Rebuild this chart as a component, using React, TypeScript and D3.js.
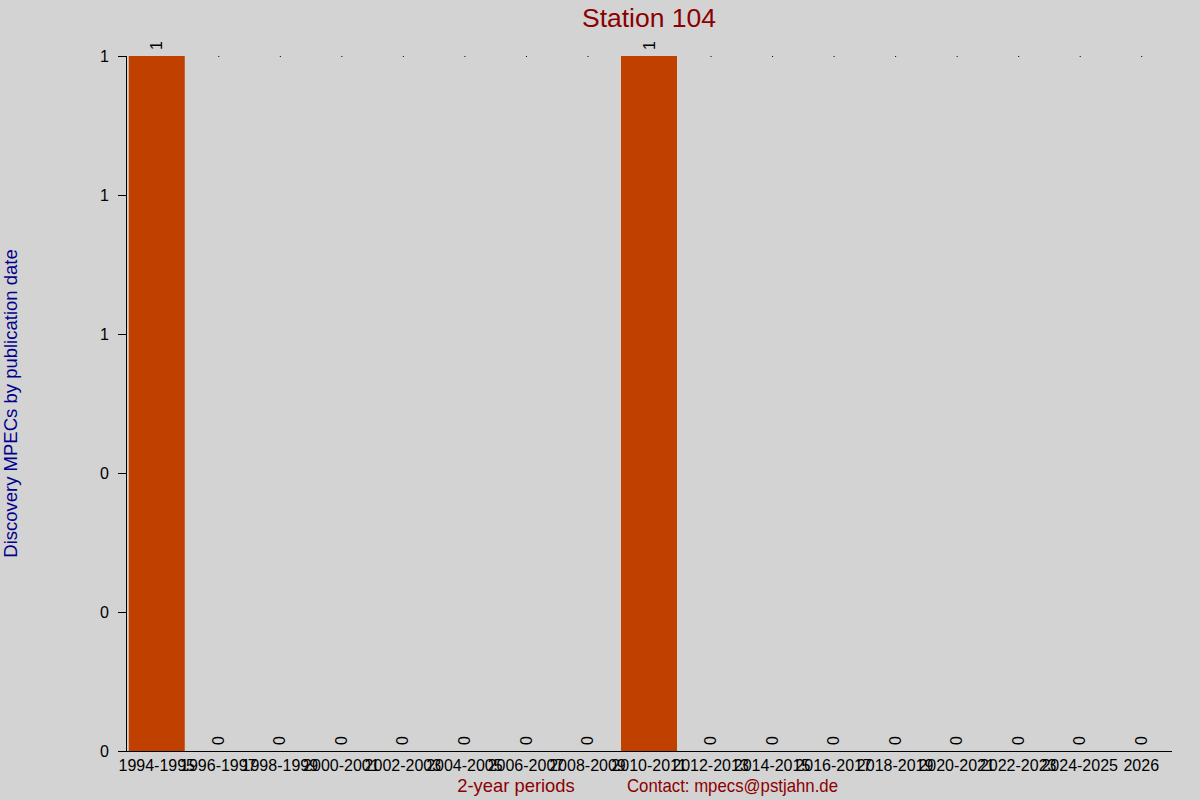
import React, { useEffect, useRef } from 'react';
import * as d3 from 'd3';

const categories = [
  "1994-1995", "1996-1997", "1998-1999", "2000-2001", "2002-2003", "2004-2005",
  "2006-2007", "2008-2009", "2010-2011", "2012-2013", "2014-2015", "2016-2017",
  "2018-2019", "2020-2021", "2022-2023", "2024-2025", "2026",
];
const values = [1, 0, 0, 0, 0, 0, 0, 0, 1, 0, 0, 0, 0, 0, 0, 0, 0];
const yTicks = [0, 0.2, 0.4, 0.6, 0.8, 1];

const App: React.FC = () => {
  const svgRef = useRef<SVGSVGElement>(null);

  useEffect(() => {
    if (!svgRef.current) return;
    document.body.style.margin = "0";

    const width = 1200;
    const height = 800;
    const margin = { top: 56, right: 28, bottom: 49, left: 126 };
    const font = "'Liberation Sans', Arial, sans-serif";

    const svg = d3.select(svgRef.current)
      .attr("width", width)
      .attr("height", height)
      .attr("viewBox", [0, 0, width, height]);

    svg.selectAll("*").remove();

    svg.append("rect")
      .attr("width", width)
      .attr("height", height)
      .attr("fill", "#d3d3d3");

    const x = d3.scaleBand<string>()
      .domain(categories)
      .range([margin.left, width - margin.right])
      .paddingInner(0.09)
      .paddingOuter(0.045);

    const y = d3.scaleLinear()
      .domain([0, 1])
      .range([height - margin.bottom, margin.top]);

    const rows = categories.map((c, i) => ({ c, v: values[i] }));

    // bars
    svg.selectAll(".bar")
      .data(rows)
      .enter().append("rect")
      .attr("class", "bar")
      .attr("x", d => x(d.c)!)
      .attr("y", d => y(d.v))
      .attr("width", x.bandwidth())
      .attr("height", d => y(0) - y(d.v))
      .attr("fill", "#c04000");

    // little marks at the top for empty periods
    svg.selectAll(".dot")
      .data(rows.filter(d => d.v === 0))
      .enter().append("rect")
      .attr("x", d => x(d.c)! + x.bandwidth() / 2)
      .attr("y", y(1))
      .attr("width", 1)
      .attr("height", 1)
      .attr("fill", "#000");

    // value labels, rotated
    svg.selectAll(".val")
      .data(rows)
      .enter().append("text")
      .attr("transform", d => `translate(${x(d.c)! + x.bandwidth() / 2},${y(d.v) - 6}) rotate(-90)`)
      .attr("dy", "0.35em")
      .attr("font-family", font)
      .attr("font-size", 16)
      .attr("fill", "#000")
      .text(d => d.v);

    // y axis
    const yAxis = svg.append("g");
    yAxis.append("line")
      .attr("x1", margin.left + 0.5).attr("x2", margin.left + 0.5)
      .attr("y1", y(1)).attr("y2", y(0))
      .attr("stroke", "#000");
    yAxis.selectAll(".tick")
      .data(yTicks)
      .enter().append("line")
      .attr("x1", margin.left - 8).attr("x2", margin.left)
      .attr("y1", d => Math.round(y(d)) + 0.5).attr("y2", d => Math.round(y(d)) + 0.5)
      .attr("stroke", "#000");
    yAxis.selectAll(".lbl")
      .data(yTicks)
      .enter().append("text")
      .attr("x", margin.left - 17)
      .attr("y", d => y(d))
      .attr("dy", "0.35em")
      .attr("text-anchor", "end")
      .attr("font-family", font)
      .attr("font-size", 16)
      .text(d => d3.format(".0f")(d));

    // x axis
    svg.append("line")
      .attr("x1", margin.left).attr("x2", width - margin.right)
      .attr("y1", y(0) + 0.5).attr("y2", y(0) + 0.5)
      .attr("stroke", "#000");
    svg.selectAll(".xl")
      .data(categories)
      .enter().append("text")
      .attr("x", d => x(d)! + x.bandwidth() / 2)
      .attr("y", y(0) + 20)
      .attr("text-anchor", "middle")
      .attr("font-family", font)
      .attr("font-size", 16)
      .text(d => d);

    // titles
    svg.append("text")
      .attr("x", (margin.left + width - margin.right) / 2)
      .attr("y", 27)
      .attr("text-anchor", "middle")
      .attr("font-family", font)
      .attr("font-size", 26.5)
      .attr("fill", "#8b0000")
      .text("Station 104");

    svg.append("text")
      .attr("transform", `translate(17,${(y(0) + y(1)) / 2}) rotate(-90)`)
      .attr("text-anchor", "middle")
      .attr("font-family", font)
      .attr("font-size", 18.5)
      .attr("fill", "#00008b")
      .text("Discovery MPECs by publication date");

    svg.append("text")
      .attr("x", 516)
      .attr("y", 792)
      .attr("text-anchor", "middle")
      .attr("font-family", font)
      .attr("font-size", 18.4)
      .attr("fill", "#8b0000")
      .text("2-year periods");

    svg.append("text")
      .attr("x", 627)
      .attr("y", 792)
      .attr("textLength", 211)
      .attr("lengthAdjust", "spacingAndGlyphs")
      .attr("font-family", font)
      .attr("font-size", 18.4)
      .attr("fill", "#8b0000")
      .text("Contact: mpecs@pstjahn.de");
  }, []);

  return (
    <div style={{ width: 1200, height: 800 }}>
      <svg ref={svgRef} style={{ display: "block" }} />
    </div>
  );
};

export default App;
